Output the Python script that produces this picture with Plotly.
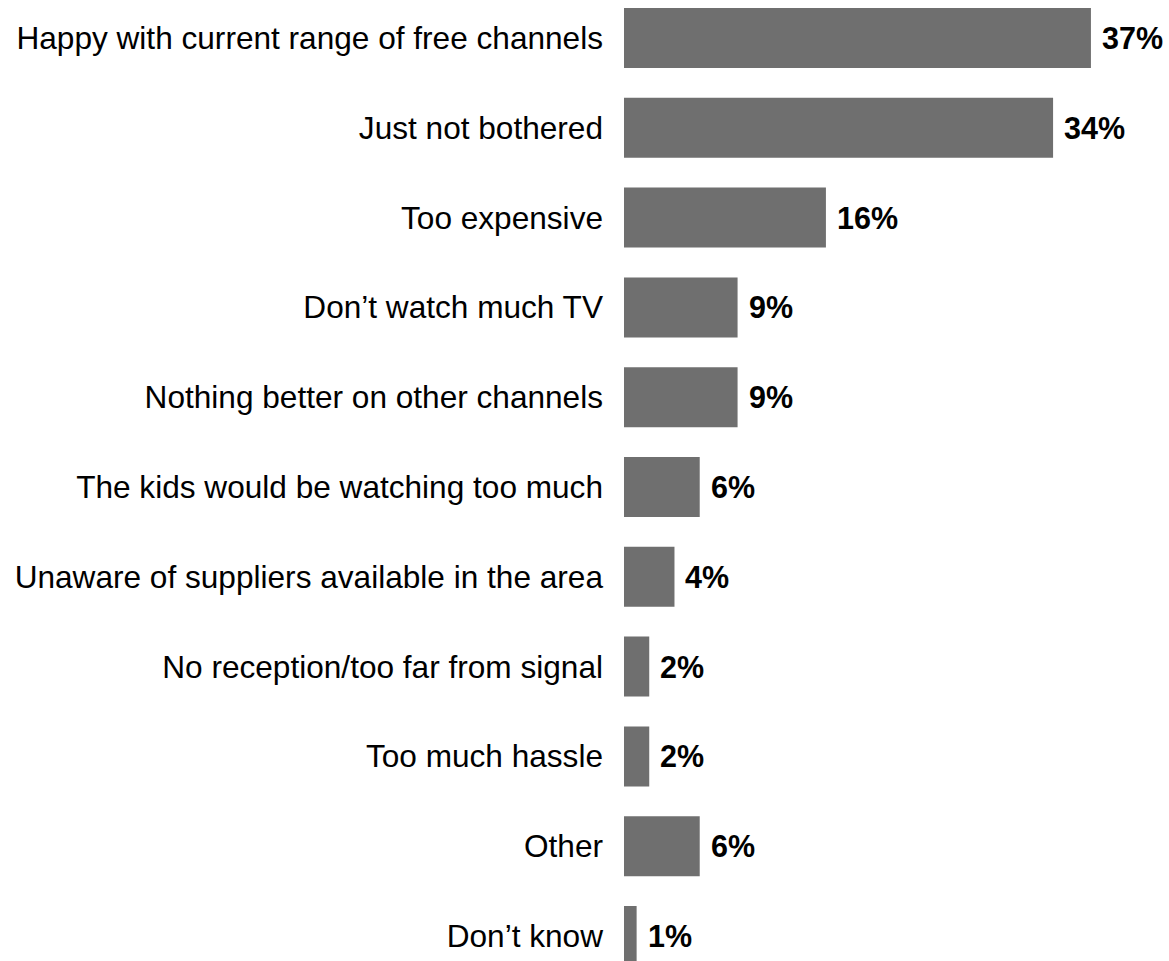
import plotly.graph_objects as go

categories = [
    "Happy with current range of free channels",
    "Just not bothered",
    "Too expensive",
    "Don\u2019t watch much TV",
    "Nothing better on other channels",
    "The kids would be watching too much",
    "Unaware of suppliers available in the area",
    "No reception/too far from signal",
    "Too much hassle",
    "Other",
    "Don\u2019t know",
]
values = [37, 34, 16, 9, 9, 6, 4, 2, 2, 6, 1]
value_labels = [f"{v}%" for v in values]

BAR_COLOR = "#6f6f6f"
FONT = "Liberation Sans, Arial, sans-serif"

fig = go.Figure()
fig.add_trace(go.Bar(
    x=values,
    y=categories,
    orientation="h",
    marker=dict(color=BAR_COLOR, line=dict(width=0)),
    hoverinfo="skip",
))

for c, v, t in zip(categories, values, value_labels):
    fig.add_annotation(
        x=v, y=c, text=f"<b>{t}</b>", showarrow=False,
        xanchor="left", yanchor="middle", xshift=9,
        font=dict(family=FONT, size=30.5, color="#000000"),
    )

W, H = 1169, 961
left = 624
px_per_unit = 12.62
pitch = 89.8
first_center = 38

x_max = (W - left) / px_per_unit
r0 = -first_center / pitch
r1 = r0 + H / pitch

fig.update_layout(
    width=W, height=H,
    margin=dict(l=left, r=0, t=0, b=0, pad=0),
    paper_bgcolor="white", plot_bgcolor="white",
    bargap=1 - 60 / pitch,
    showlegend=False,
    font=dict(family=FONT, size=31.6, color="#000000"),
    xaxis=dict(range=[0, x_max], visible=False, showgrid=False, zeroline=False),
    yaxis=dict(
        range=[r1, r0],
        showgrid=False, zeroline=False, showline=False,
        ticks="", ticklabelstandoff=20,
        tickfont=dict(family=FONT, size=31.6, color="#000000"),
        categoryorder="array", categoryarray=categories,
    ),
)

fig.write_html("out.html")
